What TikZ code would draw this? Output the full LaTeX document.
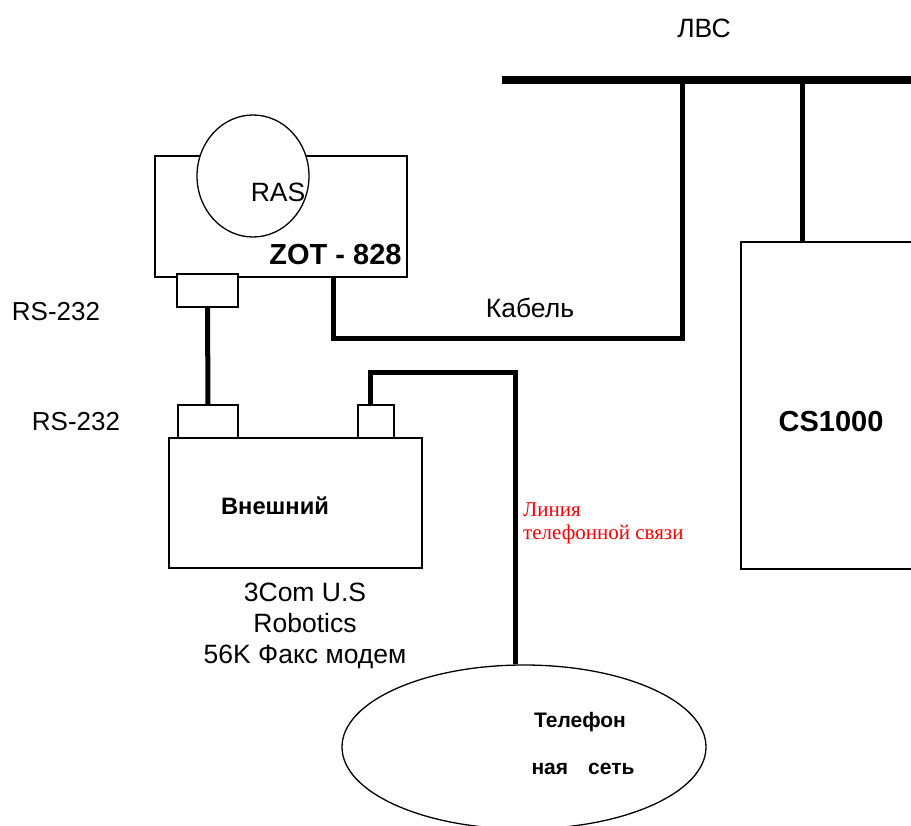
\documentclass[tikz,border=0pt]{standalone}
\usepackage{fontspec}
\setmainfont{Liberation Sans}
\newfontfamily\timesfont{Liberation Serif}
\usepackage{tikz}
\usetikzlibrary{shapes.geometric}
\tikzset{
	box/.style={rectangle, draw, line width=1.5pt, inner sep=0pt, fill=white},
	port/.style={box, minimum height=33pt},
	oval/.style={ellipse, draw, line width=1.3pt, inner sep=0pt, fill=white},
	wire/.style={line width=5pt},
	bus/.style={line width=8pt},
	lbl/.style={font=\fontsize{26.5}{31}\selectfont, inner sep=0pt, align=center},
	blbl/.style={font=\fontsize{#1}{#1}\selectfont\bfseries, inner sep=0pt},
	blbl/.default=25,
	redlbl/.style={font=\timesfont\fontsize{21}{23}\selectfont, text=red,
		inner sep=0pt, align=left},
}

\begin{document}
\begin{tikzpicture}[x=1pt, y=-1pt]
	\clip (0,0) rectangle (911,826);
	\useasboundingbox (0,0) rectangle (911,826);

	\node[box, minimum width=252pt, minimum height=121pt] (zot) at (281,216.5) {};
	\node[oval, minimum width=112pt, minimum height=122pt] (ras) at (253,176) {};
	\node[port, minimum width=61pt] (zotport) at (207.5,290.5) {};
	\node[box, minimum width=253pt, minimum height=130pt] (modem) at (295.5,503) {};
	\node[port, minimum width=60pt] (mport) at (208,421.5) {};
	\node[port, minimum width=36pt] (lport) at (376,421.5) {};
	\node[box, minimum width=180pt, minimum height=327pt] (cs) at (831,405.5) {};
	\node[oval, minimum width=364pt, minimum height=164pt] (tel) at (524,747) {};

	\node[lbl] (lan) at (704,28) {ЛВС};
	\node[lbl] (raslbl) at (278,192) {RAS};
	\node[blbl=29] (zotlbl) at (335.5,254.5) {ZOT - 828};
	\node[lbl, font=\fontsize{26}{31}\selectfont] (rs1) at (56,312) {RS-232};
	\node[lbl, font=\fontsize{26}{31}\selectfont] (rs2) at (76,422) {RS-232};
	\node[lbl] (cbllbl) at (530,308) {Кабель};
	\node[blbl=29] (cslbl) at (831,422) {CS1000};
	\node[blbl=23.7] (modemlbl) at (275,506) {Внешний};
	\node[lbl] (modeminfo) at (305,626) {3Com U.S\\Robotics\\56K Факс модем};
	\node[redlbl, anchor=west] (linelbl) at (523,523.5) {Линия\\телефонной связи};
	\node[blbl=21] (tel1) at (580,722) {Телефон};
	\node[blbl=21] (tel2) at (583,769) {ная\hspace{20pt}сеть};

	\coordinate (tap1) at (682,80);
	\coordinate (tap2) at (802,80);
	\coordinate (cbl) at (333,339);
	\coordinate (tl) at (370,373);
	\coordinate (tr) at (515,373);

	\draw[bus] (502,80) -- (920,80);
	\draw[wire] (tap2) -- (tap2 |- cs.north);
	\draw[wire] (zot.south -| cbl) -- (cbl) -- (cbl -| tap1) -- (tap1);
	\draw[wire] (zotport.south) -- (mport.north);
	\draw[wire] (tl |- lport.north) -- (tl) -- (tr) -- (tr |- tel.north);
\end{tikzpicture}
\end{document}
